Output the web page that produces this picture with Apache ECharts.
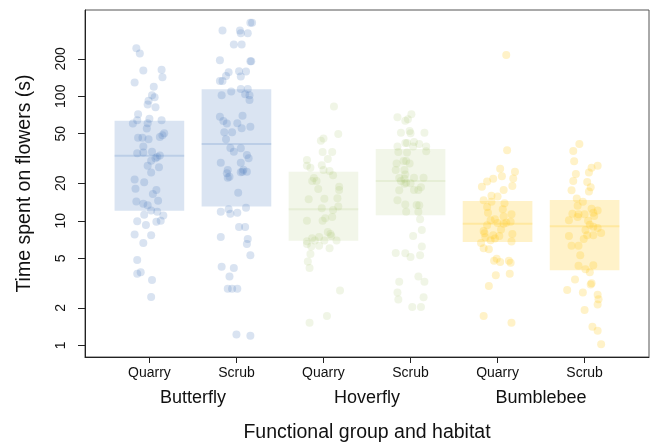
<!DOCTYPE html>
<html>
<head>
<meta charset="utf-8">
<script src="https://cdn.jsdelivr.net/npm/echarts@6/dist/echarts.min.js"></script>
<style>html,body{margin:0;padding:0;background:#fff}#c{width:651px;height:443px}</style>
</head>
<body>
<div id="c"></div>
<script>
// ---- categories ----
const habitats = ['Quarry', 'Scrub'];
const groups = ['Butterfly', 'Hoverfly', 'Bumblebee'];
const yTicks = [1, 2, 5, 10, 20, 50, 100, 200];

// ---- box summaries (25%, median, 75%) per group/habitat ----
const q1Values  = [12.05, 13.0, 6.92, 11.07, 6.76, 4.0];
const medValues = [33.3, 41.4, 12.4, 20.9, 9.48, 9.03];
const q3Values  = [63.7, 113.8, 24.8, 37.7, 14.4, 14.7];

// ---- raw observations (seconds) and their horizontal jitter ----
const butterflyQuarryTime = [243,221,161,163,142,129,119,102,98,92,86,81.6,71.7,64.1,66.1,64.1,60.3,60.7,55,46.5,46.5,45.1,47.1,48.6,50.4,39.4,34.8,35.3,35.9,33.4,32.5,30.4,31.8,27.7,26.9,24.4,21.5,20.4,18.1,17.7,16.4,14.3,14.5,13.7,13.3,12.1,11.8,11,11.2,9.9,9.25,9.84,10,7.74,7.64,6.63,4.84,3.76,3.86,3.35,2.44];
const butterflyQuarryJitter = [-0.15,-0.11,-0.07,0.14,0.15,-0.17,0.05,0.03,0.06,-0.01,-0.02,0.07,-0.13,-0.14,0,0.14,-0.19,-0.02,-0.03,-0.13,-0.08,-0.01,0.12,0.15,0.17,-0.07,-0.14,-0.07,0.03,0.12,0.09,0.02,0.07,-0.02,0.11,0.02,-0.17,-0.06,-0.16,0.08,0.04,-0.15,0.10,-0.07,-0.02,0.02,0.09,0.16,-0.06,-0.14,-0.04,0.08,0.13,-0.17,0.02,-0.07,-0.14,-0.14,-0.10,0.03,0.02];

const butterflyScrubTime = [390,390,337,337,320,320,261,261,194.5,191,191,156,159,158,145.6,144,132.7,132.7,109,114.5,114.5,102,104,102,93.4,68.6,63.3,60.3,69.9,60.7,55.3,57,51.4,51.4,45.1,38.4,38.2,35.9,33.8,31.8,29.3,29.3,25.6,24.1,22.2,22.6,24.5,24.8,24.7,25.7,16.8,12.75,11.8,12.4,11.4,11.6,8.92,8.92,7.41,7.14,6.51,5.28,4.28,4.18,3.56,2.85,2.85,2.85,1.22,1.195];
const butterflyScrubJitter = [0.16,0.18,-0.16,0.04,0.05,0.13,-0.03,0.06,-0.19,0.16,0.17,-0.09,0.03,0.11,-0.12,0.05,-0.19,-0.16,-0.06,0.05,0.13,-0.17,0.10,0.15,0.15,-0.19,-0.15,-0.11,0.07,0.01,0.06,0.16,-0.14,-0.05,-0.12,-0.07,0.05,-0.03,0.12,0.14,-0.18,0.05,-0.10,-0.11,-0.10,-0.08,0.05,0.07,0.12,0.08,0.02,0.11,-0.18,-0.09,-0.07,0.01,0.03,0.10,-0.18,0.13,0.12,0.16,-0.17,-0.03,-0.08,-0.10,-0.05,0.01,0,0.16];

const hoverflyQuarryTime = [82.6,49.8,44,45.7,35.7,35.7,31.4,30.8,27.7,26.7,27.9,25.6,25.1,23.2,22.1,20.9,20.9,18,18.8,17.7,14.9,15,15.2,13,12.6,12.2,10,10,10.5,10.7,8.13,7.83,7.55,7.41,7.23,6.84,6.93,6.93,6.93,6.51,6.2,6.31,6.01,5.41,4.7,4.18,2.75,1.72,1.52];
const hoverflyQuarryJitter = [0.12,0.17,-0.03,0,-0.01,0.10,0.05,-0.19,-0.19,-0.15,-0.02,0,0.07,0.11,-0.11,-0.13,-0.08,-0.06,0.18,0.18,-0.17,0.01,0.16,0.17,-0.02,0.11,-0.19,-0.01,0.02,0.10,0.05,0.08,0.09,-0.05,-0.13,-0.19,-0.10,0.01,0.15,-0.19,-0.14,-0.05,0.07,-0.15,-0.18,-0.16,0.19,0.04,-0.16];

const hoverflyScrubTime = [67.8,71.7,63.7,65.3,51,52.6,50.4,51,42.2,42.2,42.9,41.4,39.4,39.4,39.4,35.7,35.3,36.1,30.2,30.2,28.9,28.8,25.6,25.6,23.5,22.1,21.8,22.2,22.2,20.9,19.8,20,20.2,18.6,17.7,17.7,17.6,14.6,13.5,13.4,13.3,11.8,11.8,10.3,8.44,7.55,6.2,5.51,5.48,5.12,5.28,3.56,3.24,3.24,2.65,2.33,2.43,2.03,2.03];
const hoverflyScrubJitter = [-0.15,0.01,-0.06,-0.03,-0.11,-0.01,0,0.16,-0.06,-0.04,0.04,0.10,-0.15,0.18,0.03,-0.14,-0.04,0.18,-0.08,-0.05,-0.01,-0.16,-0.17,-0.07,-0.06,-0.13,-0.07,0.04,0.15,-0.11,-0.07,0,-0.05,0.12,0.04,0.09,-0.13,-0.15,-0.06,0.07,0.10,-0.05,0.09,0.11,0.13,0.03,0.13,-0.17,-0.06,0,0.11,0.09,-0.13,0.16,-0.15,-0.14,0.15,0.02,0.12];

const bumblebeeQuarryTime = [214.7,36.8,26.2,24.8,22.8,21.8,20.7,21.9,18.8,19,17.7,15.9,15.7,14.6,14.2,13.8,12.9,12.4,11.6,11.3,10.8,10.3,10.1,9.6,9.48,9.66,9.84,9.2,8.49,8.28,7.93,7.64,7.83,7.55,7.37,7.19,6.97,6.8,6.63,6.01,5.9,4.96,4.78,4.67,4.78,4.61,3.65,3.76,2.99,1.72,1.52];
const bumblebeeQuarryJitter = [0.10,0.11,0.03,0.20,0.05,-0.05,-0.12,0.18,-0.18,0.17,0.07,-0.07,0,-0.16,-0.07,0.08,-0.12,0.06,-0.11,0.16,0.07,-0.03,-0.08,0,0.07,0.10,0.15,-0.12,0.04,-0.16,-0.15,-0.05,0.17,0.02,-0.14,-0.03,-0.08,0.16,-0.19,-0.16,-0.10,-0.01,-0.04,0.03,0.13,0.15,-0.02,0.14,-0.10,-0.16,0.16];

const bumblebeeScrubTime = [41.4,36.4,30,26.7,27.7,24.4,23.8,20.9,20.5,18.6,17.2,17.6,15.1,14.2,13.2,12.5,12.1,11.4,11.3,11.3,11.6,10.9,10.7,10.1,10,9.31,8.97,8.75,8.44,7.98,7.64,7.64,7.55,7.14,6.31,6.31,5.28,4.36,4.39,4.08,3.86,3.37,3.15,3.07,2.78,2.65,2.55,2.34,2.13,1.92,1.41,1.31,1.02];
const bumblebeeScrubJitter = [-0.06,-0.13,-0.12,0.08,0.15,0.05,-0.10,-0.13,0.03,0.07,0.05,-0.15,-0.09,-0.02,-0.08,0.08,0.15,-0.14,-0.07,0,0.10,0.11,-0.08,-0.18,0.04,0.06,0.10,0.15,0.01,0.19,0.03,0.10,-0.18,-0.01,-0.15,-0.07,-0.05,-0.07,0.10,0.01,0.06,-0.11,0.08,0.07,-0.20,-0.02,0.15,0.16,0.15,0,0.09,0.15,0.19];

// ---- assembly ----
const obsTime = [butterflyQuarryTime, butterflyScrubTime, hoverflyQuarryTime, hoverflyScrubTime, bumblebeeQuarryTime, bumblebeeScrubTime];
const obsJitter = [butterflyQuarryJitter, butterflyScrubJitter, hoverflyQuarryJitter, hoverflyScrubJitter, bumblebeeQuarryJitter, bumblebeeScrubJitter];

const baseRGB = ['70,120,190', '70,120,190', '160,190,100', '160,190,100', '255,200,30', '255,200,30'];
const boxAlpha = [0.2, 0.2, 0.14, 0.14, 0.24, 0.24];
const ptAlpha = [0.26, 0.26, 0.2, 0.2, 0.3, 0.3];

const FONT = 'Liberation Sans, Arial, Helvetica, sans-serif';

const boxData = q1Values.map((q, i) => [i + 1, q, medValues[i], q3Values[i]]);

const series = [{
  type: 'custom',
  xAxisIndex: 0, yAxisIndex: 0,
  data: boxData,
  silent: true,
  renderItem: function (params, api) {
    const i = params.dataIndex;
    const p = api.value(0);
    const a = api.coord([p - 0.4, api.value(3)]);
    const b = api.coord([p + 0.4, api.value(1)]);
    const m1 = api.coord([p - 0.4, api.value(2)]);
    const m2 = api.coord([p + 0.4, api.value(2)]);
    return {
      type: 'group',
      children: [
        { type: 'rect', shape: { x: a[0], y: a[1], width: b[0] - a[0], height: b[1] - a[1] },
          style: { fill: 'rgba(' + baseRGB[i] + ',' + boxAlpha[i] + ')' } },
        { type: 'line', shape: { x1: m1[0], y1: m1[1], x2: m2[0], y2: m2[1] },
          style: { stroke: 'rgba(' + baseRGB[i] + ',' + boxAlpha[i] + ')', lineWidth: 2 } }
      ]
    };
  },
  z: 1
}];

obsTime.forEach((arr, gi) => {
  series.push({
    type: 'scatter',
    xAxisIndex: 0, yAxisIndex: 0,
    symbol: 'circle',
    symbolSize: 8,
    silent: true,
    itemStyle: { color: 'rgba(' + baseRGB[gi] + ',' + ptAlpha[gi] + ')' },
    data: arr.map((v, k) => [gi + 1 + obsJitter[gi][k], v]),
    z: 2
  });
});

const chart = echarts.init(document.getElementById('c'), null, { renderer: 'canvas' });
chart.setOption({
  animation: false,
  backgroundColor: '#fff',
  textStyle: { fontFamily: FONT },
  grid: { left: 85, right: 2, top: 10, bottom: 86, show: true, borderColor: '#555', borderWidth: 1,
    backgroundColor: 'transparent', containLabel: false, outerBoundsMode: 'none' },
  xAxis: [{
    type: 'value', min: 0.26, max: 6.74, position: 'bottom',
    axisLine: { show: true, onZero: false, lineStyle: { color: '#222', width: 1 } },
    axisTick: { show: true, length: 6, lineStyle: { color: '#222' }, customValues: [1, 2, 3, 4, 5, 6] },
    axisLabel: { show: true, margin: 9, fontSize: 14, color: '#111', fontFamily: FONT,
      customValues: [1, 2, 3, 4, 5, 6],
      formatter: v => habitats[(Math.round(v) - 1) % 2] },
    splitLine: { show: false }
  }, {
    type: 'value', min: 0.26, max: 6.74, position: 'bottom', gridIndex: 0,
    axisLine: { show: false }, axisTick: { show: false },
    axisLabel: { show: true, margin: 32, fontSize: 18, color: '#111', fontFamily: FONT,
      customValues: [1.5, 3.5, 5.5],
      formatter: v => groups[Math.round((v - 1.5) / 2)] },
    splitLine: { show: false },
    name: 'Functional group and habitat', nameLocation: 'middle', nameGap: 66,
    nameTextStyle: { fontSize: 19.5, color: '#111', fontFamily: FONT }
  }],
  yAxis: [{
    type: 'log', logBase: 10, min: 0.805, max: 493,
    axisLine: { show: true, lineStyle: { color: '#222' } },
    axisTick: { show: true, length: 7, lineStyle: { color: '#222' }, customValues: yTicks },
    axisLabel: { show: true, rotate: 90, margin: 17, fontSize: 14, color: '#111', fontFamily: FONT,
      customValues: yTicks, formatter: v => String(Math.round(v)) },
    splitLine: { show: false },
    minorTick: { show: false },
    name: 'Time spent on flowers (s)', nameLocation: 'middle', nameGap: 50,
    nameTextStyle: { fontSize: 19.5, color: '#111', fontFamily: FONT }
  }],
  series: series
});
</script>
</body>
</html>
